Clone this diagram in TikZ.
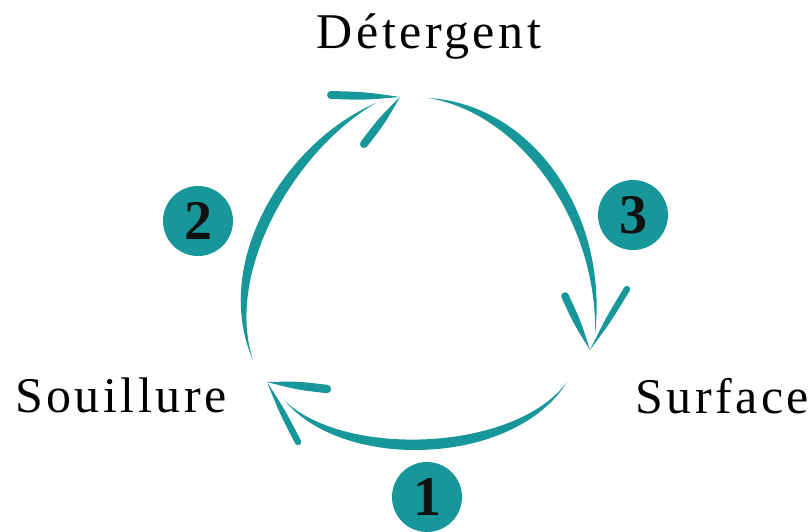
\documentclass[tikz,border=0pt]{standalone}
\usepackage{fontspec}
\setmainfont{Liberation Serif}
\newfontfamily\labelfont[LetterSpace=7]{Liberation Serif}
\usetikzlibrary{calc}

\definecolor{cycleteal}{HTML}{17979A}
\definecolor{digitink}{HTML}{111111}

\tikzset{
  brush/.style={fill=cycleteal},
  stagelabel/.style={font=\labelfont\fontsize{50}{60}\selectfont, inner sep=0pt},
  stepdisc/.style={circle, fill=cycleteal, minimum size=70pt, inner sep=0pt,
    font=\bfseries\fontsize{56}{60}\selectfont, text=digitink},
}

% tapered brush stroke: start, control 1, control 2, end, thickness offset
\newcommand\brushstroke[5]{%
  \fill[brush] (#1) .. controls (#2) and (#3) .. (#4)
    .. controls ($(#3)+(#5)$) and ($(#2)+(#5)$) .. (#1) -- cycle;}
% one side of an arrowhead: pointed at the tip, swelling to a rounded far end
\newcommand\arrowbarb[3]{%
  \coordinate (bm) at ($(#1)!0.5!(#2)$);
  \fill[brush] (#1) .. controls ($(bm)!#3!90:(#2)$) .. ($(#2)!#3!-90:(#1)$)
    -- ($(#2)!#3!90:(#1)$) .. controls ($(bm)!#3!-90:(#2)$) .. (#1) -- cycle;
  \fill[brush] (#2) circle (#3);}

\begin{document}
\begin{tikzpicture}[x=1pt,y=-1pt]
  \useasboundingbox (0,0) rectangle (812,531);

  % stage labels
  \node[stagelabel, anchor=base] (det) at (429,48) {Détergent};
  \node[stagelabel, anchor=base west] (soil) at (15,412) {Souillure};
  \node[stagelabel, anchor=base west] (surf) at (635,413) {Surface};

  % arc 2: Souillure -> Détergent
  \coordinate (a2s) at (253,360);
  \coordinate (a2e) at (376,103);
  \coordinate (a2tip) at (400,97);
  \brushstroke{a2s}{211,265}{283,143}{a2e}{13,6}
  \arrowbarb{a2tip}{331,95}{4pt}
  \arrowbarb{a2tip}{364,144}{4pt}

  % arc 3: Détergent -> Surface
  \coordinate (a3s) at (428,98);
  \coordinate (a3e) at (595,335);
  \coordinate (a3tip) at (590,350);
  \brushstroke{a3s}{532,104}{609,213}{a3e}{-11,9}
  \arrowbarb{a3tip}{565,296}{3.8pt}
  \arrowbarb{a3tip}{627,289}{3.2pt}

  % arc 1: Surface -> Souillure
  \coordinate (a1s) at (567,382);
  \coordinate (a1e) at (285,401);
  \coordinate (a1tip) at (267,382);
  \brushstroke{a1s}{515,466}{345,472}{a1e}{0,-14}
  \arrowbarb{a1tip}{327,389}{4.2pt}
  \arrowbarb{a1tip}{298,442}{3.2pt}

  % numbered steps
  \node[stepdisc] (n1) at (427,497) {1};
  \node[stepdisc] (n2) at (198,221) {2};
  \node[stepdisc] (n3) at (633,215) {3};
\end{tikzpicture}
\end{document}
